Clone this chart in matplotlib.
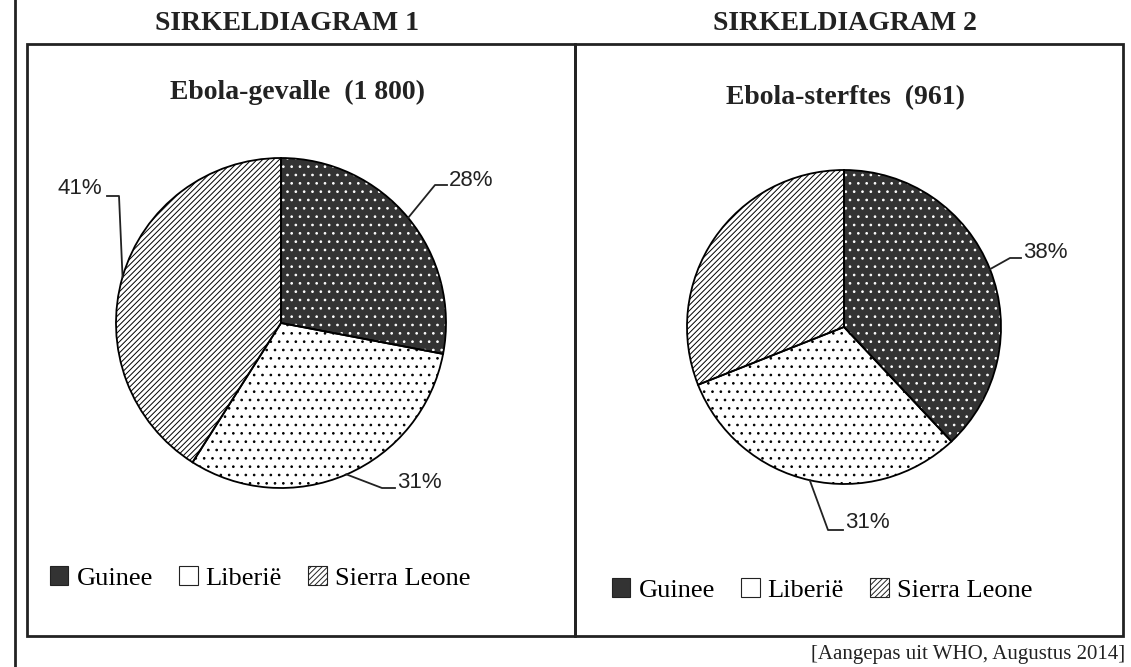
import numpy as np
import matplotlib.pyplot as plt
from matplotlib.patches import Patch, Rectangle

# data
countries = ['Guinee', 'Liberië', 'Sierra Leone']
cases_pct = [28, 31, 41]        # Ebola-gevalle (1 800)
deaths_pct = [38, 31, 31]       # Ebola-sterftes (961)
cases_labelled = [True, True, True]
deaths_labelled = [True, True, False]

titles = ['SIRKELDIAGRAM 1', 'SIRKELDIAGRAM 2']
subtitles = ['Ebola-gevalle  (1 800)', 'Ebola-sterftes  (961)']
source = '[Aangepas uit WHO, Augustus 2014]'

# styles
fills = ['#333333', 'white', 'white']
hatches = ['..', '..', '//////']
hatch_cols = ['white', 'black', 'black']
legend_hatches = [None, None, '//////']

W, H = 1131, 667
SERIF = 'Liberation Serif'
SANS = 'Liberation Sans'
plt.rcParams['hatch.linewidth'] = 0.7

fig = plt.figure(figsize=(W / 100, H / 100), dpi=100)
ax = fig.add_axes([0, 0, 1, 1])


def up(y):
    return H - y


def draw_pie(values, labelled, center, radius, label_layout):
    cx, cy = center[0], up(center[1])
    wedges, _ = ax.pie(values, colors=fills, startangle=90, counterclock=False,
                       center=(cx, cy), radius=radius,
                       wedgeprops=dict(linewidth=0))
    for w, h, hc in zip(wedges, hatches, hatch_cols):
        w.set_hatch(h)
        w.set_edgecolor(hc)
    # outline on top
    ax.pie(values, startangle=90, counterclock=False, center=(cx, cy),
           radius=radius, wedgeprops=dict(fill=False, edgecolor='black',
                                          linewidth=1.3))
    for i, w in enumerate(wedges):
        if not labelled[i]:
            continue
        mid = np.deg2rad((w.theta1 + w.theta2) / 2)
        sx, sy = cx + radius * np.cos(mid), cy + radius * np.sin(mid)
        (ex, ey), (tx, ty), (lx, ly), ha = label_layout[i]
        ax.plot([sx, ex, tx], [sy, up(ey), up(ty)], color='#222222', lw=1.3)
        ax.text(lx, up(ly), f'{values[i]}%', ha=ha, va='center',
                fontsize=16, family=SANS, color='#222222')


# label layout: elbow, line end, text anchor, alignment (image pixel coords)
layout1 = [((435, 185), (447, 185), (449, 180), 'left'),
           ((382, 488), (395, 488), (397, 482), 'left'),
           ((119, 196), (107, 196), (102, 189), 'right')]
layout2 = [((1010, 258), (1021, 258), (1023, 252), 'left'),
           ((828, 530), (843, 530), (845, 523), 'left'),
           None]

draw_pie(cases_pct, cases_labelled, (281, 323), 165, layout1)
draw_pie(deaths_pct, deaths_labelled, (844, 327), 157, layout2)

ax.set_xlim(0, W)
ax.set_ylim(0, H)
ax.set_aspect('auto')
ax.axis('off')

# frames
ax.plot([15, 15], [up(0), up(H)], color='#222222', lw=2, clip_on=False)
for x0, x1 in [(27, 575), (575, 1123)]:
    ax.add_patch(Rectangle((x0, up(636)), x1 - x0, 636 - 44, fill=False,
                           edgecolor='#222222', lw=2))

# titles
for x, t in zip([287, 845], titles):
    fig.text(x / W, 1 - 24 / H, t, ha='center', va='center', fontsize=20,
             fontweight='bold', family=SERIF, color='#222222')
for x, y, t in zip([297, 845], [92, 98], subtitles):
    fig.text(x / W, 1 - y / H, t, ha='center', va='center', fontsize=20,
             fontweight='bold', family=SERIF, color='#222222')

# legends
handles = [Patch(facecolor=f, edgecolor='#222222', hatch=h, lw=0.8)
           for f, h in zip(fills, legend_hatches)]
for x, y in [(50, 578), (612, 590)]:
    fig.legend(handles, countries, loc='center left',
               bbox_to_anchor=(x / W, 1 - y / H), ncol=3, frameon=False,
               prop=dict(family=SERIF, size=19), handlelength=0.7,
               handleheight=0.7, handletextpad=0.3, columnspacing=1.0,
               borderpad=0, borderaxespad=0)

fig.text(1125 / W, 1 - 655 / H, source, ha='right', va='center', fontsize=15,
         family=SERIF, color='#222222')

fig.savefig('out.png', dpi=100, facecolor='white')
